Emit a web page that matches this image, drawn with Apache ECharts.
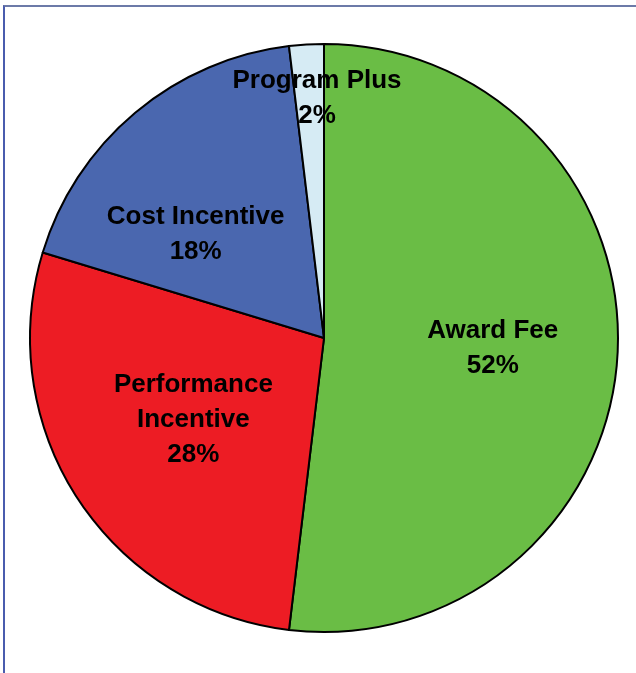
<!DOCTYPE html>
<html>
<head>
<meta charset="utf-8">
<script src="https://cdn.jsdelivr.net/npm/echarts@6/dist/echarts.min.js"></script>
<style>
  html, body { margin: 0; padding: 0; background: #fff; }
  #frame {
    position: absolute; left: 3px; top: 5px; width: 633px; height: 668px;
    border-top: 2px solid #6c7aa8; border-left: 2px solid #4a5cae;
    box-sizing: border-box;
  }
  #pie_chart { position: absolute; left: 0; top: 0; width: 636px; height: 673px; }
</style>
</head>
<body>
<div id="frame"></div>
<div id="pie_chart"></div>
<script>
  const categories = ['Award Fee', 'Performance\nIncentive', 'Cost Incentive', 'Program Plus']
  // shares; labels show them rounded
  const shares = [51.9, 27.8, 18.4, 1.9]
  const colors = ['#6abd45', '#ed1c24', '#4a67af', '#d6ebf4']
  // label nudges from the default inside spot
  const labelShift = [[19, 1], [-5, 0], [-32, 11], [2, -90]]

  const chart = echarts.init(document.getElementById('pie_chart'))
  chart.setOption({
    animation: false,
    series: [
      {
        type: 'pie',
        center: [324, 338],
        radius: 294,
        startAngle: 90,
        clockwise: true,
        avoidLabelOverlap: false,
        itemStyle: {
          borderColor: '#000',
          borderWidth: 2
        },
        label: {
          show: true,
          position: 'inside',
          formatter: (p) => p.name + '\n' + Math.round(p.value) + '%',
          color: '#000',
          fontFamily: '"Liberation Sans", Arial, sans-serif',
          fontWeight: 'bold',
          fontSize: 26,
          lineHeight: 35,
          align: 'center'
        },
        labelLayout: (params) => {
          const s = labelShift[params.dataIndex]
          return { dx: s[0], dy: s[1] }
        },
        emphasis: { disabled: true },
        data: categories.map((name, i) => ({
          name: name,
          value: shares[i],
          itemStyle: { color: colors[i] }
        }))
      }
    ]
  })
</script>
</body>
</html>
